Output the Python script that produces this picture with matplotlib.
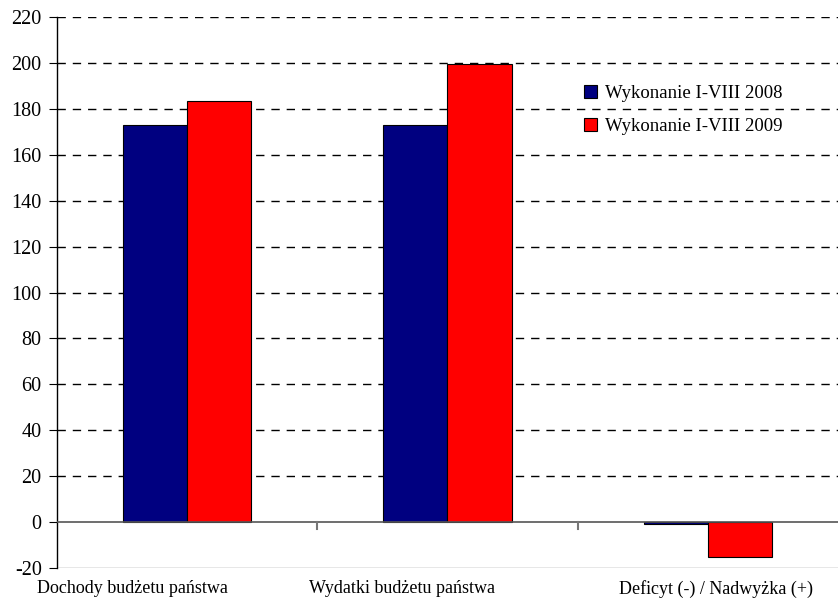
import numpy as np
import matplotlib
matplotlib.use('Agg')
import matplotlib.pyplot as plt

# dane (mld zl)
categories = ['Dochody budżetu państwa', 'Wydatki budżetu państwa', 'Deficyt (-) / Nadwyżka (+)']
series_names = ['Wykonanie I-VIII 2008', 'Wykonanie I-VIII 2009']
vals_2008 = [172.9, 173.0, -0.9]
vals_2009 = [183.4, 199.4, -15.0]
yticks = list(range(-20, 221, 20))

plt.rcParams['font.family'] = ['Liberation Serif', 'DejaVu Serif']

fig = plt.figure(figsize=(8.38, 6.0), dpi=100)
ax = fig.add_axes([0.068, 0.0533, 0.932, 0.9184])

x = np.arange(len(categories))
w = 0.246
ax.bar(x - w/2, vals_2008, w, color='#000080', edgecolor='black', linewidth=0.8,
       label=series_names[0], zorder=3)
ax.bar(x + w/2, vals_2009, w, color='#FF0000', edgecolor='black', linewidth=0.8,
       label=series_names[1], zorder=3)

ax.set_xlim(-0.5, len(categories) - 0.5)
ax.set_ylim(-20, 220)
ax.set_yticks(yticks)
ax.set_yticklabels([str(t) for t in yticks], fontsize=14.5)

# gridlines (dashed), -20 solid grey
for t in yticks:
    if t == -20:
        ax.axhline(t, color='#888888', lw=1.0, zorder=1)
    elif t == 0:
        continue
    else:
        ax.axhline(t, color='black', lw=1.0, ls=(0, (6, 5)), zorder=1)
ax.axhline(0, color='#555555', lw=1.2, zorder=4)

# category boundary ticks on zero line
for b in [0.5, 1.5]:
    ax.plot([b, b], [0, -2.8], color='#777777', lw=1.5, zorder=4, clip_on=False)

# Excel przesuwa etykiety kategorii, zeby sie zmiescily
ax.set_xticks(x)
ax.set_xticklabels([])
ax.tick_params(axis='x', length=0)
label_shift = [-0.21, -0.173, 0.03]
for xi, lab, sh in zip(x, categories, label_shift):
    ax.text(xi + sh, -0.022, lab, transform=ax.get_xaxis_transform(),
            ha='center', va='top', fontsize=13)
ax.tick_params(axis='y', direction='out', length=6, color='black', pad=5)

for s in ['top', 'right', 'bottom']:
    ax.spines[s].set_visible(False)
ax.spines['left'].set_color('black')
ax.spines['left'].set_linewidth(1.0)

ax.legend(loc='upper left', bbox_to_anchor=(0.677, 0.887), bbox_transform=fig.transFigure,
          frameon=False, fontsize=13.5, handlelength=0.7, handleheight=0.7,
          handletextpad=0.4, labelspacing=0.85)

fig.savefig('out.png', dpi=100)
